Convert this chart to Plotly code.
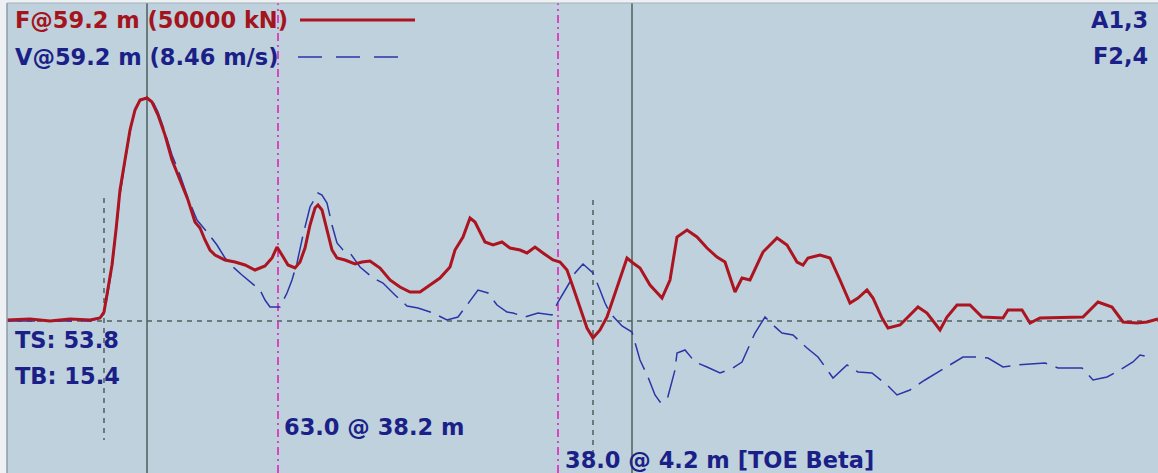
import plotly.graph_objects as go

# ---- data (sample index, kN) ----
f_t = [0, 23, 43, 63, 83, 93, 97, 101, 105, 109, 113, 118, 123, 128, 133, 140, 145, 151, 158, 165, 173, 181, 188, 193, 198, 203, 208, 218, 228, 238, 248, 258, 265, 270, 275, 281, 288, 293, 298, 303, 308, 311, 315, 320, 325, 330, 338, 348, 355, 363, 373, 383, 393, 403, 413, 423, 433, 443, 448, 456, 463, 468, 478, 486, 495, 503, 513, 520, 528, 536, 546, 553, 560, 566, 573, 580, 586, 593, 600, 610, 620, 626, 633, 643, 655, 663, 670, 680, 690, 700, 710, 718, 728, 735, 743, 756, 770, 780, 790, 796, 801, 813, 823, 833, 843, 851, 860, 866, 875, 881, 893, 911, 920, 933, 940, 950, 963, 975, 996, 1001, 1015, 1023, 1033, 1076, 1091, 1105, 1116, 1130, 1140, 1151]
force_kN = [100, 200, 0, 200, 100, 300, 900, 3100, 5600, 9100, 13100, 16100, 19100, 21100, 22100, 22300, 21900, 20600, 18600, 16100, 14100, 12100, 9900, 9300, 8100, 7100, 6600, 6100, 5900, 5600, 5100, 5500, 6300, 7400, 6600, 5600, 5300, 5900, 7300, 9600, 11300, 11600, 11100, 9100, 7100, 6300, 6100, 5700, 5900, 6000, 5300, 4100, 3400, 2900, 2900, 3600, 4300, 5400, 7100, 8400, 10300, 9900, 7900, 7600, 7900, 7300, 7100, 6800, 7400, 6800, 6100, 5900, 5100, 3400, 1300, -700, -1700, -900, 400, 3400, 6300, 5800, 5300, 3600, 2300, 4100, 8400, 9100, 8400, 7300, 6400, 5900, 2900, 4300, 4100, 6900, 8300, 7600, 5900, 5600, 6300, 6600, 6300, 4100, 1800, 2300, 3100, 2300, 300, -700, -400, 1400, 800, -900, 400, 1600, 1600, 400, 300, 1100, 1100, -200, 300, 400, 1900, 1400, -100, -200, -100, 200]

v_t = [0, 83, 93, 97, 101, 105, 109, 113, 118, 123, 128, 133, 140, 145, 151, 158, 165, 173, 181, 190, 200, 210, 218, 226, 235, 243, 253, 258, 263, 273, 280, 285, 290, 296, 303, 311, 315, 320, 325, 330, 336, 343, 353, 366, 376, 388, 400, 411, 426, 440, 451, 460, 471, 481, 490, 500, 506, 518, 531, 545, 551, 560, 568, 576, 586, 593, 598, 603, 615, 625, 633, 641, 648, 653, 660, 668, 670, 678, 688, 700, 713, 726, 735, 748, 758, 766, 775, 786, 800, 811, 820, 826, 840, 851, 865, 880, 890, 903, 918, 931, 945, 956, 970, 981, 996, 1010, 1038, 1051, 1075, 1086, 1100, 1113, 1126, 1133, 1146]
zv_kN = [0, 0, 300, 700, 2900, 5300, 8900, 12600, 15900, 18900, 21100, 22000, 22400, 22100, 20900, 18900, 16600, 14600, 12300, 10100, 8900, 7600, 6300, 5400, 4600, 3900, 3100, 2100, 1400, 1400, 2800, 4100, 5800, 8600, 11400, 12800, 12600, 11800, 9600, 7800, 7100, 6800, 5400, 4300, 3800, 2600, 1500, 1300, 800, 100, 400, 1600, 3100, 2800, 1600, 900, 800, 400, 800, 600, 1900, 3400, 4800, 5700, 4800, 3100, 1800, 800, -500, -1100, -3900, -5600, -7400, -8100, -7900, -4900, -3200, -2900, -4100, -4600, -5200, -4700, -4100, -1200, 400, -400, -1200, -1400, -2700, -3600, -4900, -5700, -4400, -5100, -5200, -6400, -7400, -6900, -5900, -5100, -4200, -3600, -3600, -3700, -4600, -4400, -4200, -4700, -4700, -5900, -5600, -4900, -4100, -3400, -3700]

peak_marks = [140, 625]          # solid grey markers
toe_marks = [(97, 12300, -11900), (586, 12100, -14400)]  # dotted markers
wave_marks = [271, 551]          # magenta dash-dot markers

labels_top_left = ["F@59.2 m (50000 kN)", "V@59.2 m (8.46 m/s)"]
labels_top_right = ["A1,3", "F2,4"]
labels_ts_tb = ["TS: 53.8", "TB: 15.4"]
label_a = "63.0 @ 38.2 m"
label_b = "38.0 @ 4.2 m [TOE Beta]"

RED = "#ac1420"
BLUE = "#2b35a8"
TXT_RED = "#a3141d"
TXT_NAVY = "#1b1f88"
GREY = "#4d5f5e"
MAG = "#e024bc"
FONT = "DejaVu Sans"

XR = [0, 1151]
YR = [-15200, 31800]

fig = go.Figure()
fig.add_trace(go.Scatter(x=v_t, y=zv_kN, mode="lines",
                         line=dict(color=BLUE, width=1.5, dash="28px,9px"),
                         showlegend=False, hoverinfo="skip"))
fig.add_trace(go.Scatter(x=f_t, y=force_kN, mode="lines",
                         line=dict(color=RED, width=3),
                         showlegend=False, hoverinfo="skip"))

shapes = []
shapes.append(dict(type="line", xref="paper", yref="y", x0=0, x1=1, y0=0, y1=0,
                   line=dict(color=GREY, width=1.5, dash="5px,5px"), layer="below"))
for xm in peak_marks:
    shapes.append(dict(type="line", xref="x", yref="paper", x0=xm, x1=xm, y0=0, y1=1,
                       line=dict(color=GREY, width=1.5), layer="below"))
for xm, y0, y1 in toe_marks:
    shapes.append(dict(type="line", xref="x", yref="y", x0=xm, x1=xm, y0=y0, y1=y1,
                       line=dict(color=GREY, width=1.5, dash="5px,5px"), layer="below"))
for xm in wave_marks:
    shapes.append(dict(type="line", xref="x", yref="paper", x0=xm, x1=xm, y0=0, y1=1,
                       line=dict(color=MAG, width=1.6, dash="8px,4px,2px,4px"), layer="below"))
# legend sample lines
shapes.append(dict(type="line", xref="x", yref="y", x0=293, x1=408, y0=30100, y1=30100,
                   line=dict(color=RED, width=3)))
shapes.append(dict(type="line", xref="x", yref="y", x0=291, x1=404, y0=26400, y1=26400,
                   line=dict(color=BLUE, width=1.5, dash="24px,14px")))
shapes.append(dict(type="line", xref="paper", yref="paper", x0=0, x1=0, y0=0, y1=1,
                   line=dict(color="#8d9ca6", width=1.5)))
shapes.append(dict(type="line", xref="paper", yref="paper", x0=0, x1=1, y0=1, y1=1,
                   line=dict(color="#a4b1b9", width=1)))

def fnt(c, s=22.5):
    return dict(family=FONT, size=s, color=c, weight="bold")

ann = []
ann.append(dict(x=6, y=30100, text=labels_top_left[0], font=fnt(TXT_RED)))
ann.append(dict(x=6, y=26400, text=labels_top_left[1], font=fnt(TXT_NAVY)))
ann.append(dict(x=1143, y=30100, text=labels_top_right[0], font=fnt(TXT_NAVY), xanchor="right"))
ann.append(dict(x=1143, y=26500, text=labels_top_right[1], font=fnt(TXT_NAVY), xanchor="right"))
ann.append(dict(x=6, y=-1900, text=labels_ts_tb[0], font=fnt(TXT_NAVY)))
ann.append(dict(x=6, y=-5500, text=labels_ts_tb[1], font=fnt(TXT_NAVY)))
ann.append(dict(x=275, y=-10600, text=label_a, font=fnt(TXT_NAVY)))
ann.append(dict(x=556, y=-13900, text=label_b, font=fnt(TXT_NAVY)))
for a in ann:
    a.setdefault("xanchor", "left")
    a.update(xref="x", yref="y", yanchor="middle", showarrow=False)

fig.update_layout(
    width=1158, height=473,
    margin=dict(l=7, r=0, t=3, b=0),
    paper_bgcolor="#eef1f3",
    plot_bgcolor="#bfd1dc",
    shapes=shapes, annotations=ann, showlegend=False,
    xaxis=dict(range=XR, visible=False, showgrid=False, zeroline=False, fixedrange=True),
    yaxis=dict(range=YR, visible=False, showgrid=False, zeroline=False, fixedrange=True),
)

fig.write_html("out.html", config=dict(displayModeBar=False),
               post_script="document.body.style.margin='0';document.body.style.overflow='hidden';")
